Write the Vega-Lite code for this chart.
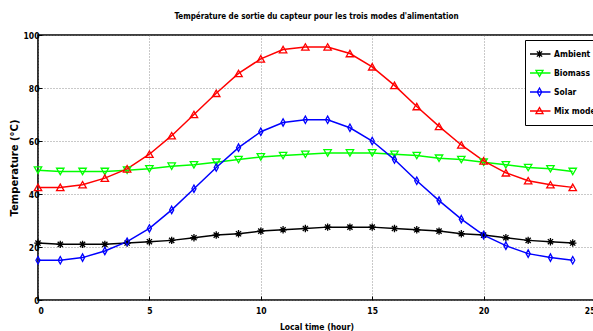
{
  "$schema": "https://vega.github.io/schema/vega-lite/v6.json",
  "autosize": {"type": "none"},
  "width": 557,
  "height": 265,
  "padding": {"left": 38, "top": 35, "right": 0, "bottom": 31},
  "background": "white",
  "config": {
    "font": "DejaVu Sans Condensed",
    "view": {"stroke": "black", "strokeWidth": 1.6},
    "axis": {
      "grid": true,
      "gridColor": "#777777",
      "gridDash": [1, 2],
      "gridWidth": 0.8,
      "domain": false,
      "tickColor": "black",
      "tickSize": -4,
      "labelFont": "DejaVu Sans Condensed",
      "labelFontWeight": "bold",
      "labelFontSize": 8.5,
      "labelColor": "black",
      "titleFont": "DejaVu Sans Condensed",
      "titleFontWeight": "bold",
      "titleFontSize": 8.5,
      "titleColor": "black"
    },
    "legend": {
      "title": null, "orient": "none", "legendX": 487, "legendY": 5,
      "symbolSize": 310, "symbolOpacity": 1, "symbolStrokeWidth": 1.3, "symbolFillColor": "transparent",
      "labelFont": "DejaVu Sans Condensed", "labelFontWeight": "bold", "labelFontSize": 8.5, "labelColor": "black",
      "strokeColor": "black", "fillColor": "white", "padding": 5, "rowPadding": 1, "labelOffset": 5, "clipHeight": 18
    }
  },
  "title": {
    "text": "Température de sortie du capteur pour les trois modes d'alimentation",
    "font": "DejaVu Sans Condensed",
    "fontSize": 8,
    "fontWeight": "bold",
    "color": "black",
    "offset": 10,
    "anchor": "middle"
  },
  "data": {
    "values": [
      {"h": 0, "series": "Ambient", "T": 21.5}, {"h": 1, "series": "Ambient", "T": 21}, {"h": 2, "series": "Ambient", "T": 21}, {"h": 3, "series": "Ambient", "T": 21}, {"h": 4, "series": "Ambient", "T": 21.5}, {"h": 5, "series": "Ambient", "T": 22}, {"h": 6, "series": "Ambient", "T": 22.5}, {"h": 7, "series": "Ambient", "T": 23.5}, {"h": 8, "series": "Ambient", "T": 24.5}, {"h": 9, "series": "Ambient", "T": 25}, {"h": 10, "series": "Ambient", "T": 26}, {"h": 11, "series": "Ambient", "T": 26.5}, {"h": 12, "series": "Ambient", "T": 27}, {"h": 13, "series": "Ambient", "T": 27.5}, {"h": 14, "series": "Ambient", "T": 27.5}, {"h": 15, "series": "Ambient", "T": 27.5}, {"h": 16, "series": "Ambient", "T": 27}, {"h": 17, "series": "Ambient", "T": 26.5}, {"h": 18, "series": "Ambient", "T": 26}, {"h": 19, "series": "Ambient", "T": 25}, {"h": 20, "series": "Ambient", "T": 24.5}, {"h": 21, "series": "Ambient", "T": 23.5}, {"h": 22, "series": "Ambient", "T": 22.5}, {"h": 23, "series": "Ambient", "T": 22}, {"h": 24, "series": "Ambient", "T": 21.5},
      {"h": 0, "series": "Biomass", "T": 49}, {"h": 1, "series": "Biomass", "T": 48.5}, {"h": 2, "series": "Biomass", "T": 48.5}, {"h": 3, "series": "Biomass", "T": 48.5}, {"h": 4, "series": "Biomass", "T": 49}, {"h": 5, "series": "Biomass", "T": 49.5}, {"h": 6, "series": "Biomass", "T": 50.5}, {"h": 7, "series": "Biomass", "T": 51}, {"h": 8, "series": "Biomass", "T": 52}, {"h": 9, "series": "Biomass", "T": 53}, {"h": 10, "series": "Biomass", "T": 54}, {"h": 11, "series": "Biomass", "T": 54.5}, {"h": 12, "series": "Biomass", "T": 55}, {"h": 13, "series": "Biomass", "T": 55.5}, {"h": 14, "series": "Biomass", "T": 55.5}, {"h": 15, "series": "Biomass", "T": 55.5}, {"h": 16, "series": "Biomass", "T": 55}, {"h": 17, "series": "Biomass", "T": 54.5}, {"h": 18, "series": "Biomass", "T": 53.5}, {"h": 19, "series": "Biomass", "T": 53}, {"h": 20, "series": "Biomass", "T": 52}, {"h": 21, "series": "Biomass", "T": 51}, {"h": 22, "series": "Biomass", "T": 50}, {"h": 23, "series": "Biomass", "T": 49.5}, {"h": 24, "series": "Biomass", "T": 48.5},
      {"h": 0, "series": "Solar", "T": 15}, {"h": 1, "series": "Solar", "T": 15}, {"h": 2, "series": "Solar", "T": 16}, {"h": 3, "series": "Solar", "T": 18.5}, {"h": 4, "series": "Solar", "T": 22}, {"h": 5, "series": "Solar", "T": 27}, {"h": 6, "series": "Solar", "T": 34}, {"h": 7, "series": "Solar", "T": 42}, {"h": 8, "series": "Solar", "T": 50}, {"h": 9, "series": "Solar", "T": 57.5}, {"h": 10, "series": "Solar", "T": 63.5}, {"h": 11, "series": "Solar", "T": 67}, {"h": 12, "series": "Solar", "T": 68}, {"h": 13, "series": "Solar", "T": 68}, {"h": 14, "series": "Solar", "T": 65}, {"h": 15, "series": "Solar", "T": 60}, {"h": 16, "series": "Solar", "T": 53}, {"h": 17, "series": "Solar", "T": 45}, {"h": 18, "series": "Solar", "T": 37.5}, {"h": 19, "series": "Solar", "T": 30.5}, {"h": 20, "series": "Solar", "T": 24.5}, {"h": 21, "series": "Solar", "T": 20.5}, {"h": 22, "series": "Solar", "T": 17.5}, {"h": 23, "series": "Solar", "T": 16}, {"h": 24, "series": "Solar", "T": 15},
      {"h": 0, "series": "Mix mode", "T": 42.5}, {"h": 1, "series": "Mix mode", "T": 42.5}, {"h": 2, "series": "Mix mode", "T": 43.5}, {"h": 3, "series": "Mix mode", "T": 46}, {"h": 4, "series": "Mix mode", "T": 49.5}, {"h": 5, "series": "Mix mode", "T": 55}, {"h": 6, "series": "Mix mode", "T": 62}, {"h": 7, "series": "Mix mode", "T": 70}, {"h": 8, "series": "Mix mode", "T": 78}, {"h": 9, "series": "Mix mode", "T": 85.5}, {"h": 10, "series": "Mix mode", "T": 91}, {"h": 11, "series": "Mix mode", "T": 94.5}, {"h": 12, "series": "Mix mode", "T": 95.5}, {"h": 13, "series": "Mix mode", "T": 95.5}, {"h": 14, "series": "Mix mode", "T": 93}, {"h": 15, "series": "Mix mode", "T": 88}, {"h": 16, "series": "Mix mode", "T": 81}, {"h": 17, "series": "Mix mode", "T": 73}, {"h": 18, "series": "Mix mode", "T": 65.5}, {"h": 19, "series": "Mix mode", "T": 58.5}, {"h": 20, "series": "Mix mode", "T": 52.5}, {"h": 21, "series": "Mix mode", "T": 48}, {"h": 22, "series": "Mix mode", "T": 45}, {"h": 23, "series": "Mix mode", "T": 43.5}, {"h": 24, "series": "Mix mode", "T": 42.5}
    ]
  },
  "encoding": {
    "x": {"field": "h", "type": "quantitative", "scale": {"domain": [0, 25], "nice": false}, "axis": {"values": [0, 5, 10, 15, 20, 25], "title": "Local time (hour)", "titlePadding": 8, "labelPadding": 10}},
    "y": {"field": "T", "type": "quantitative", "scale": {"domain": [0, 100], "nice": false}, "axis": {"values": [0, 20, 40, 60, 80, 100], "title": "Temperature (°C)", "titleFont": "DejaVu Sans", "titleFontSize": 10, "titlePadding": 4, "labelPadding": 3}}
  },
  "layer": [
    {
      "mark": {"type": "line", "strokeWidth": 1.5},
      "encoding": {
        "color": {"field": "series", "type": "nominal", "scale": {"domain": ["Ambient", "Biomass", "Solar", "Mix mode"], "range": ["#000000", "#00ff00", "#0000ff", "#ff0000"]}, "legend": null}
      }
    },
    {
      "mark": {"type": "point", "filled": false, "strokeWidth": 1.3, "opacity": 1},
      "encoding": {
        "color": {"field": "series", "type": "nominal", "legend": null},
        "shape": {"field": "series", "type": "nominal", "scale": {"domain": ["Ambient", "Biomass", "Solar", "Mix mode"], "range": ["M-1,0H1M0,-1V1M-0.7,-0.7L0.7,0.7M-0.7,0.7L0.7,-0.7", "triangle-down", "M0,-1L0.55,0L0,1L-0.55,0Z", "triangle-up"]}, "legend": null},
        "size": {"value": 55}
      }
    },
    {
      "mark": {"type": "point", "filled": false, "strokeWidth": 1.3, "opacity": 0},
      "encoding": {
        "color": {"field": "series", "type": "nominal", "legend": {}},
        "shape": {
          "field": "series", "type": "nominal",
          "scale": {"domain": ["Ambient", "Biomass", "Solar", "Mix mode"], "range": ["M-1.25,0H1.25M0,-0.4V0.4M-0.3,-0.3L0.3,0.3M-0.3,0.3L0.3,-0.3", "M-1.25,0H1.25M-0.4,-0.3L0.4,-0.3L0,0.38Z", "M-1.25,0H1.25M0,-0.45L0.25,0L0,0.45L-0.25,0Z", "M-1.25,0H1.25M-0.4,0.3L0.4,0.3L0,-0.38Z"]},
          "legend": {}
        }
      }
    }
  ],
  "resolve": {"scale": {"shape": "independent"}, "legend": {"color": "independent", "shape": "independent"}}
}
